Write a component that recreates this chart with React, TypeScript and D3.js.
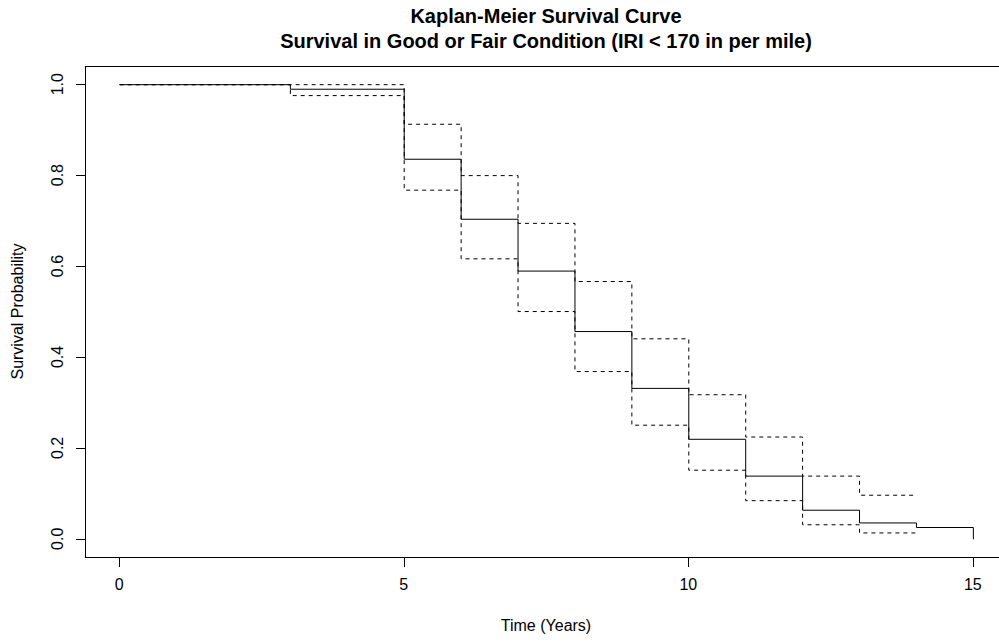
import { useEffect, useRef } from 'react';
import * as d3 from 'd3';

// Kaplan-Meier estimate
const times = [0, 3, 5, 6, 7, 8, 9, 10, 11, 12, 13, 14, 15];
const survival = [1, 0.99, 0.836, 0.704, 0.59, 0.457, 0.332, 0.22, 0.139, 0.064, 0.036, 0.026, 0];
// confidence band stops at year 14
const ciTimes = [0, 3, 5, 6, 7, 8, 9, 10, 11, 12, 13, 14];
const upperCI = [1, 1, 0.913, 0.8, 0.695, 0.567, 0.441, 0.318, 0.225, 0.139, 0.097, 0.097];
const lowerCI = [1, 0.976, 0.768, 0.617, 0.501, 0.369, 0.251, 0.152, 0.085, 0.032, 0.014, 0.014];

const xTicks = [0, 5, 10, 15];
const yTicks = [0, 0.2, 0.4, 0.6, 0.8, 1.0];

const titleLines = ['Kaplan-Meier Survival Curve', 'Survival in Good or Fair Condition (IRI < 170 in per mile)'];

export default function App() {
  const ref = useRef<SVGSVGElement | null>(null);

  useEffect(() => {
    if (!ref.current) return;
    const width = 999;
    const height = 642;
    const svg = d3.select(ref.current);
    svg.selectAll('*').remove();

    const font = '"Liberation Sans", Arial, sans-serif';

    // R-style 4% axis extension
    const x = d3.scaleLinear().domain([-0.6, 15.6]).range([85, 1007]);
    const y = d3.scaleLinear().domain([-0.04, 1.04]).range([557, 66]);

    svg.append('rect').attr('width', width).attr('height', height).attr('fill', '#fff');

    // plot box
    svg.append('rect')
      .attr('x', x(-0.6) + 0.5)
      .attr('y', y(1.04) + 0.5)
      .attr('width', x(15.6) - x(-0.6))
      .attr('height', y(-0.04) - y(1.04))
      .attr('fill', 'none')
      .attr('stroke', '#000')
      .attr('shape-rendering', 'crispEdges');

    // x axis ticks
    const xg = svg.append('g');
    xTicks.forEach(t => {
      xg.append('line')
        .attr('x1', Math.round(x(t)) + 0.5).attr('x2', Math.round(x(t)) + 0.5)
        .attr('y1', y(-0.04)).attr('y2', y(-0.04) + 10)
        .attr('stroke', '#000').attr('shape-rendering', 'crispEdges');
      xg.append('text')
        .attr('x', x(t)).attr('y', 590)
        .attr('text-anchor', 'middle')
        .style('font-family', font).style('font-size', '16px')
        .text(String(t));
    });

    // y axis ticks
    const yg = svg.append('g');
    yTicks.forEach(t => {
      yg.append('line')
        .attr('x1', x(-0.6) - 9).attr('x2', x(-0.6))
        .attr('y1', Math.round(y(t)) + 0.5).attr('y2', Math.round(y(t)) + 0.5)
        .attr('stroke', '#000').attr('shape-rendering', 'crispEdges');
      yg.append('text')
        .attr('transform', `translate(63,${y(t)}) rotate(-90)`)
        .attr('text-anchor', 'middle')
        .style('font-family', font).style('font-size', '16px')
        .text(t.toFixed(1));
    });

    const step = d3.line<[number, number]>()
      .x(d => x(d[0]))
      .y(d => y(d[1]))
      .curve(d3.curveStepAfter);

    const survPts = times.map((t, i) => [t, survival[i]] as [number, number]);
    const upPts = ciTimes.map((t, i) => [t, upperCI[i]] as [number, number]);
    const loPts = ciTimes.map((t, i) => [t, lowerCI[i]] as [number, number]);

    [upPts, loPts].forEach(pts => {
      svg.append('path')
        .attr('d', step(pts))
        .attr('fill', 'none')
        .attr('stroke', '#000')
        .attr('stroke-width', 1)
        .attr('stroke-dasharray', '4,4')
        .attr('transform', 'translate(0.5,0.5)');
    });

    svg.append('path')
      .attr('d', step(survPts))
      .attr('fill', 'none')
      .attr('stroke', '#000')
      .attr('stroke-width', 1)
      .attr('transform', 'translate(0.5,0.5)');

    // titles
    const cx = (x(-0.6) + x(15.6)) / 2;
    titleLines.forEach((s, i) => {
      svg.append('text')
        .attr('x', cx).attr('y', 23 + i * 25)
        .attr('text-anchor', 'middle')
        .style('font-family', font).style('font-size', '20px').style('font-weight', 'bold')
        .text(s);
    });

    svg.append('text')
      .attr('x', cx).attr('y', 631)
      .attr('text-anchor', 'middle')
      .style('font-family', font).style('font-size', '16px')
      .text('Time (Years)');

    svg.append('text')
      .attr('transform', `translate(23,${(y(-0.04) + y(1.04)) / 2}) rotate(-90)`)
      .attr('text-anchor', 'middle')
      .style('font-family', font).style('font-size', '16px')
      .text('Survival Probability');
  }, []);

  return (
    <svg
      ref={ref}
      width={999}
      height={642}
      style={{ position: 'absolute', left: 0, top: 0, display: 'block' }}
    />
  );
}
